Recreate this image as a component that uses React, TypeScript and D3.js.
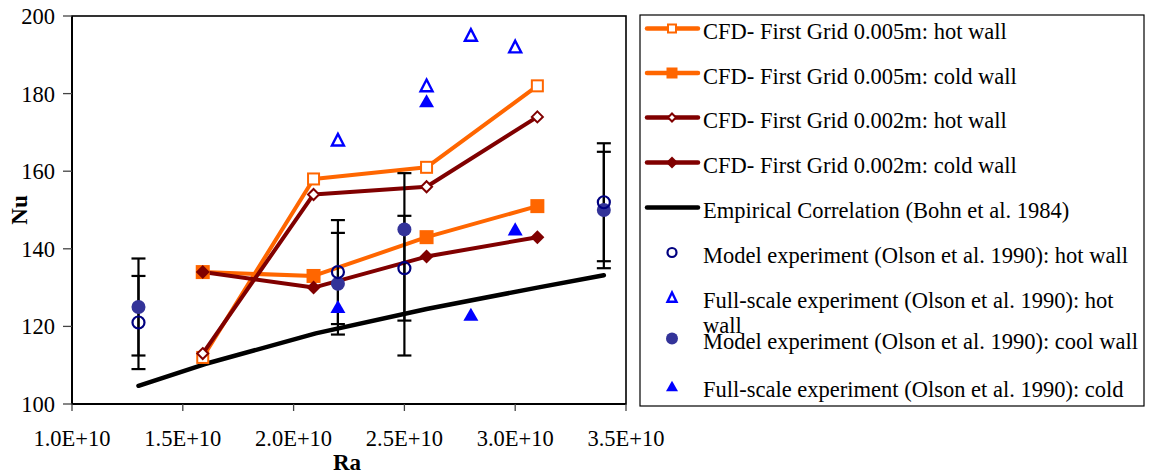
import React from "react";
import * as d3 from "d3";

// ---------- data ----------
const xTicks = [1.0e10, 1.5e10, 2.0e10, 2.5e10, 3.0e10, 3.5e10];
const xTickLabels = ["1.0E+10", "1.5E+10", "2.0E+10", "2.5E+10", "3.0E+10", "3.5E+10"];
const yTicks = [100, 120, 140, 160, 180, 200];

const cfdRa = [1.59e10, 2.09e10, 2.6e10, 3.1e10];
const cfd005Hot = [112, 158, 161, 182];
const cfd005Cold = [134, 133, 143, 151];
const cfd002Hot = [113, 154, 156, 174];
const cfd002Cold = [134, 130, 138, 143];

const empRa = [1.3e10, 1.6e10, 2.1e10, 2.6e10, 3.1e10, 3.4e10];
const empNu = [104.7, 110.3, 118.2, 124.5, 130, 133.2];

const modelRa = [1.3e10, 2.2e10, 2.5e10, 3.4e10];
const modelHot = [121, 134, 135, 152];
const modelCold = [125, 131, 145, 150];
const modelHotLow = [109, 120.6, 121.5, 136.8];
const modelHotHigh = [133, 147.4, 148.5, 167.2];
const modelColdLow = [112.5, 117.9, 112.5, 135];
const modelColdHigh = [137.5, 144.1, 159.5, 165];

const fullRa = [2.2e10, 2.6e10, 2.8e10, 3.0e10];
const fullHot = [168, 182, 195, 192];
const fullCold = [125, 178, 123, 145];

const legendLabels = [
  "CFD- First Grid 0.005m: hot wall",
  "CFD- First Grid 0.005m: cold wall",
  "CFD- First Grid 0.002m: hot wall",
  "CFD- First Grid 0.002m: cold wall",
  "Empirical Correlation (Bohn et al. 1984)",
  "Model experiment (Olson et al. 1990): hot wall",
  "Full-scale experiment (Olson et al. 1990): hot|wall",
  "Model experiment (Olson et al. 1990): cool wall",
  "Full-scale experiment (Olson et al. 1990): cold",
];

// ---------- style ----------
const ORANGE = "#FF6600";
const DARKRED = "#800000";
const NAVY = "#000080";
const PURPLE = "#333399";
const BLUE = "#0000FF";
const FONT = "'Liberation Serif', 'Times New Roman', serif";

type Kind = "sqOpen" | "sqFill" | "diaOpen" | "diaFill" | "circOpen" | "circFill" | "triOpen" | "triFill" | "none";

function Marker({ kind, x, y, s }: { kind: Kind; x: number; y: number; s: number }) {
  const h = s / 2;
  switch (kind) {
    case "sqOpen":
      return <rect x={x - h + 1} y={y - h + 1} width={s - 2} height={s - 2} fill="#fff" stroke={ORANGE} strokeWidth={2} />;
    case "sqFill":
      return <rect x={x - h} y={y - h} width={s} height={s} fill={ORANGE} />;
    case "diaOpen":
      return (
        <path d={`M${x},${y - h + 1}L${x + h - 1},${y}L${x},${y + h - 1}L${x - h + 1},${y}Z`} fill="#fff" stroke={DARKRED} strokeWidth={2} />
      );
    case "diaFill":
      return <path d={`M${x},${y - h}L${x + h},${y}L${x},${y + h}L${x - h},${y}Z`} fill={DARKRED} />;
    case "circOpen":
      return <circle cx={x} cy={y} r={h - 1} fill="none" stroke={NAVY} strokeWidth={2.2} />;
    case "circFill":
      return <circle cx={x} cy={y} r={h} fill={PURPLE} />;
    case "triOpen": {
      const t = s * 0.45;
      return (
        <path d={`M${x},${y - t}L${x + h - 1},${y + t * 0.85}L${x - h + 1},${y + t * 0.85}Z`} fill="none" stroke={BLUE} strokeWidth={2.4} />
      );
    }
    case "triFill": {
      const t = s * 0.47;
      return <path d={`M${x},${y - t}L${x + h},${y + t * 0.85}L${x - h},${y + t * 0.85}Z`} fill={BLUE} />;
    }
    default:
      return null;
  }
}

export default function App() {
  const x = d3.scaleLinear().domain([1e10, 3.5e10]).range([72, 626]);
  const y = d3.scaleLinear().domain([100, 200]).range([404, 16]);
  const line = d3
    .line<[number, number]>()
    .x((d) => x(d[0]))
    .y((d) => y(d[1]));

  const cfdSeries: { vals: number[]; color: string; kind: Kind; size: number }[] = [
    { vals: cfd005Hot, color: ORANGE, kind: "sqOpen", size: 13 },
    { vals: cfd005Cold, color: ORANGE, kind: "sqFill", size: 14 },
    { vals: cfd002Hot, color: DARKRED, kind: "diaOpen", size: 13 },
    { vals: cfd002Cold, color: DARKRED, kind: "diaFill", size: 14 },
  ];

  const errs: { lo: number[]; hi: number[] }[] = [
    { lo: modelHotLow, hi: modelHotHigh },
    { lo: modelColdLow, hi: modelColdHigh },
  ];

  const legendKinds: { kind: Kind; color?: string; size: number }[] = [
    { kind: "sqOpen", color: ORANGE, size: 10 },
    { kind: "sqFill", color: ORANGE, size: 11 },
    { kind: "diaOpen", color: DARKRED, size: 10 },
    { kind: "diaFill", color: DARKRED, size: 12 },
    { kind: "none", color: "#000", size: 0 },
    { kind: "circOpen", size: 11 },
    { kind: "triOpen", size: 11 },
    { kind: "circFill", size: 12 },
    { kind: "triFill", size: 12 },
  ];
  const legendBaselines = [39, 83.5, 128, 173, 218, 263, 308, 349, 397];

  return (
    <svg
      width={1149}
      height={474}
      style={{ position: "absolute", left: 0, top: 0, background: "#fff" }}
      fontFamily={FONT}
    >
      <rect x={0} y={0} width={1149} height={474} fill="#fff" />
      {/* frame */}
      <rect x={72} y={16} width={554} height={388} fill="none" stroke="#000" strokeWidth={1.6} />
      <line x1={72} x2={72} y1={16} y2={404} stroke="#000" strokeWidth={2} />
      <line x1={72} x2={626} y1={404} y2={404} stroke="#000" strokeWidth={2} />

      {/* y ticks */}
      {yTicks.map((t) => (
        <g key={"y" + t}>
          <line x1={63} x2={72} y1={y(t)} y2={y(t)} stroke="#444" strokeWidth={1.3} />
          <text x={55} y={y(t) + 8} textAnchor="end" fontSize={22.5} fill="#000">
            {t}
          </text>
        </g>
      ))}
      {/* x ticks */}
      {xTicks.map((t, i) => (
        <g key={"x" + t}>
          <line x1={x(t)} x2={x(t)} y1={404} y2={411} stroke="#444" strokeWidth={1.3} />
          <text x={x(t)} y={446} textAnchor="middle" fontSize={22.5} fill="#000">
            {xTickLabels[i]}
          </text>
        </g>
      ))}
      <text x={347} y={470} textAnchor="middle" fontSize={23} fontWeight="bold">
        Ra
      </text>
      <text transform="translate(27,210) rotate(-90)" textAnchor="middle" fontSize={23} fontWeight="bold">
        Nu
      </text>

      {/* empirical correlation */}
      <path
        d={line(empRa.map((r, i) => [r, empNu[i]]) as [number, number][]) || ""}
        fill="none"
        stroke="#000"
        strokeWidth={4.5}
        strokeLinecap="round"
        strokeLinejoin="round"
      />

      {/* CFD lines */}
      {cfdSeries.map((s, si) => (
        <path
          key={"l" + si}
          d={line(cfdRa.map((r, i) => [r, s.vals[i]]) as [number, number][]) || ""}
          fill="none"
          stroke={s.color}
          strokeWidth={4}
          strokeLinejoin="round"
        />
      ))}
      {cfdSeries.map((s, si) =>
        cfdRa.map((r, i) => <Marker key={"m" + si + "-" + i} kind={s.kind} x={x(r)} y={y(s.vals[i])} s={s.size} />)
      )}

      {/* error bars */}
      {errs.map((e, ei) =>
        modelRa.map((r, i) => (
          <g key={"e" + ei + "-" + i} stroke="#000" strokeWidth={2.2}>
            <line x1={x(r)} x2={x(r)} y1={y(e.lo[i])} y2={y(e.hi[i])} />
            <line x1={x(r) - 7} x2={x(r) + 7} y1={y(e.lo[i])} y2={y(e.lo[i])} />
            <line x1={x(r) - 7} x2={x(r) + 7} y1={y(e.hi[i])} y2={y(e.hi[i])} />
          </g>
        ))
      )}

      {/* experiments */}
      {modelRa.map((r, i) => (
        <Marker key={"mc" + i} kind="circFill" x={x(r)} y={y(modelCold[i])} s={14} />
      ))}
      {modelRa.map((r, i) => (
        <Marker key={"mh" + i} kind="circOpen" x={x(r)} y={y(modelHot[i])} s={14} />
      ))}
      {fullRa.map((r, i) => (
        <Marker key={"fh" + i} kind="triOpen" x={x(r)} y={y(fullHot[i])} s={14} />
      ))}
      {fullRa.map((r, i) => (
        <Marker key={"fc" + i} kind="triFill" x={x(r)} y={y(fullCold[i])} s={15} />
      ))}

      {/* legend */}
      <rect x={640} y={15} width={504} height={391} fill="#fff" stroke="#000" strokeWidth={1.2} />
      {legendLabels.map((lab, i) => {
        const b = legendBaselines[i];
        const cy = b - 10.5;
        const k = legendKinds[i];
        const isLine = i < 5;
        const parts = lab.split("|");
        return (
          <g key={"lg" + i}>
            {isLine && (
              <line x1={647} x2={698} y1={cy} y2={cy} stroke={k.color} strokeWidth={4.5} strokeLinecap="round" />
            )}
            <Marker kind={k.kind} x={672} y={cy} s={k.size} />
            <text x={703} y={b} fontSize={22.5} fill="#000">
              {parts[0]}
            </text>
            {parts[1] && (
              <text x={703} y={b + 25} fontSize={22.5} fill="#000">
                {parts[1]}
              </text>
            )}
          </g>
        );
      })}
    </svg>
  );
}
